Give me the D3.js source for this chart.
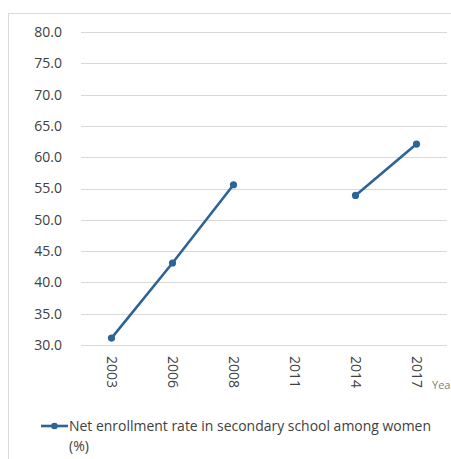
<!DOCTYPE html>
<html>
<head>
<meta charset="utf-8">
<script src="https://cdn.jsdelivr.net/npm/d3@7/dist/d3.min.js"></script>
<style>
  html, body { margin: 0; padding: 0; background: #fff; }
  svg { display: block; }
  text { font-family: "Open Sans", "Liberation Sans", sans-serif; }
</style>
</head>
<body>
<svg id="chart" width="451" height="459"></svg>
<script>
// Survey years and net enrollment rate (%) among women; 2011 has no value
const years = ["2003", "2006", "2008", "2011", "2014", "2017"];
const rates = [31.1, 43.1, 55.6, null, 53.9, 62.1];
const yTicks = [30, 35, 40, 45, 50, 55, 60, 65, 70, 75, 80];
const seriesName = "Net enrollment rate in secondary school among women";
const seriesUnit = "(%)";
const xTitle = "Year";

const svg = d3.select("#chart");
const W = 451, H = 459;
const lineColor = "#2d6396";
const textColor = "#404040";

// chart frame
svg.append("rect")
  .attr("x", 8.5).attr("y", 13.5)
  .attr("width", W + 20).attr("height", H + 20)
  .attr("fill", "none").attr("stroke", "#d9d9d9").attr("stroke-width", 1);

const plot = { left: 81, right: 447, top: 32, bottom: 345 };

const x = d3.scaleBand().domain(years).range([plot.left, plot.right]);
const y = d3.scaleLinear().domain([30, 80]).range([plot.bottom, plot.top]);

// horizontal gridlines
svg.append("g").selectAll("line").data(yTicks).join("line")
  .attr("x1", plot.left).attr("x2", plot.right)
  .attr("y1", d => Math.round(y(d)) + 0.5).attr("y2", d => Math.round(y(d)) + 0.5)
  .attr("stroke", "#d9d9d9").attr("stroke-width", 1);

// y axis labels
const yAxis = d3.axisLeft(y).tickValues(yTicks).tickFormat(d3.format(".1f")).tickSize(0).tickPadding(0);
const gy = svg.append("g").attr("transform", `translate(${plot.left - 19},0)`).call(yAxis);
gy.select(".domain").remove();
gy.selectAll("text").attr("fill", textColor).style("font-size", "14px")
  .style("font-family", "'Open Sans', 'Liberation Sans', sans-serif");

// x axis labels, rotated to read downward
const gx = svg.append("g");
gx.selectAll("text").data(years).join("text")
  .attr("transform", d => `translate(${x(d) + x.bandwidth() / 2 - 5},${plot.bottom + 11}) rotate(90)`)
  .attr("fill", textColor)
  .style("font-size", "14px")
  .text(d => d);

// axis title at the right edge of the frame
svg.append("text")
  .attr("x", 432).attr("y", 389)
  .attr("fill", "#7f7f7f").style("font-size", "11px")
  .text(xTitle);

// the series line, broken at the missing year
const pts = years.map((yr, i) => ({ yr, v: rates[i] }));
const line = d3.line()
  .defined(d => d.v !== null)
  .x(d => x(d.yr) + x.bandwidth() / 2)
  .y(d => y(d.v));

svg.append("path").datum(pts)
  .attr("d", line)
  .attr("fill", "none").attr("stroke", lineColor).attr("stroke-width", 2.6)
  .attr("stroke-linejoin", "round");

svg.append("g").selectAll("circle").data(pts.filter(d => d.v !== null)).join("circle")
  .attr("cx", d => x(d.yr) + x.bandwidth() / 2)
  .attr("cy", d => y(d.v))
  .attr("r", 3.6)
  .attr("fill", lineColor);

// legend
const lg = svg.append("g");
lg.append("line").attr("x1", 41).attr("x2", 68).attr("y1", 426).attr("y2", 426)
  .attr("stroke", lineColor).attr("stroke-width", 2.6);
lg.append("circle").attr("cx", 54.5).attr("cy", 426).attr("r", 3.3).attr("fill", lineColor);
lg.append("text").attr("x", 69).attr("y", 431)
  .attr("fill", textColor).style("font-size", "14px")
  .attr("textLength", 362).attr("lengthAdjust", "spacingAndGlyphs")
  .text(seriesName);
lg.append("text").attr("x", 69).attr("y", 451)
  .attr("fill", textColor).style("font-size", "14px")
  .text(seriesUnit);
</script>
</body>
</html>
